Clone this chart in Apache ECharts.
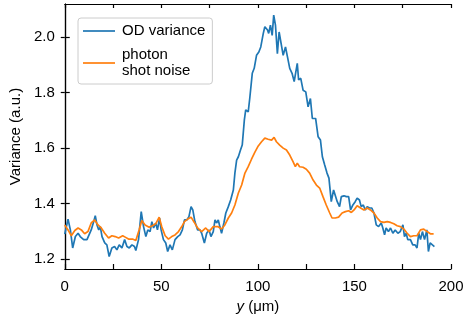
<!DOCTYPE html>
<html>
<head>
<meta charset="utf-8">
<script src="https://cdn.jsdelivr.net/npm/echarts@6/dist/echarts.min.js"></script>
<style>
  html, body { margin: 0; padding: 0; background: #fff; }
  #chart { width: 467px; height: 322px; }
</style>
</head>
<body>
<div id="chart"></div>
<script>
// OD variance (blue)
var odX = [0,1.7,2.9,4.1,5.5,6.9,8,9.8,11.5,12.4,13.7,15,15.8,16.7,17.6,18.4,19.3,20.7,21.8,23,
  24.4,25.8,27,28.2,29.6,31,32.2,33.4,34.8,36.1,36.8,38.2,39.6,40.8,42,43,44.2,45.1,46,47.1,
  48,49.1,49.9,51.1,52.3,53.3,54.5,55.7,57.1,58.5,59.7,60.9,62,63.2,64.3,65.4,66.3,67.4,68.8,70,
  70.9,72.3,73.5,74.7,75.7,76.9,77.8,78.6,79.5,80.3,81.2,82.4,83.4,84.7,85.9,87.3,88.1,89,89.9,91,
  91.9,93,93.7,95,95.8,97.1,98.1,99.3,100.5,101.5,102.8,103.6,105,105.6,106.5,107.4,108.2,109.1,110.1,111,
  112.2,113.1,114.3,115.3,116.5,117.7,118.8,119.4,120.4,121.1,122.2,123.4,124.8,126,127.2,128.2,129.9,131.2,132.4,133.4,
  134.6,135.8,136.8,138,139.2,140.1,141.1,142.3,143.2,144.6,145.8,147,148,149.2,150.4,151.4,152.6,153.5,154.6,155.6,
  156.6,157.8,159,160.1,161.3,162.5,163.9,164.7,165.6,166.4,167.6,168.7,169.9,171.1,172.5,173.7,175.1,175.9,176.8,177.6,
  179,180.2,181.4,182.4,183.3,184.2,185.2,186.3,187.5,188.3,189.2,190.2,191.4];
var odY = [1.29,1.344,1.305,1.24,1.281,1.293,1.281,1.27,1.27,1.263,1.305,1.335,1.356,1.323,1.305,1.317,1.281,1.258,1.251,1.209,
  1.24,1.245,1.233,1.251,1.24,1.27,1.245,1.24,1.251,1.245,1.231,1.27,1.371,1.317,1.281,1.305,1.299,1.335,1.312,1.33,
  1.305,1.348,1.305,1.27,1.258,1.227,1.251,1.233,1.27,1.281,1.287,1.305,1.341,1.341,1.353,1.389,1.377,1.335,1.305,1.305,
  1.293,1.258,1.293,1.305,1.281,1.299,1.341,1.33,1.341,1.317,1.293,1.33,1.366,1.389,1.413,1.449,1.51,1.557,1.569,1.593,
  1.611,1.702,1.738,1.731,1.78,1.87,1.888,1.935,1.947,1.965,2.014,2.038,2.026,2.014,2.044,2.007,2.08,2.044,1.941,2.019,
  1.971,1.935,1.965,1.93,1.888,1.87,1.84,1.834,1.906,1.846,1.852,1.809,1.803,1.749,1.779,1.707,1.707,1.641,1.629,1.569,
  1.539,1.51,1.492,1.407,1.449,1.449,1.407,1.389,1.425,1.428,1.425,1.425,1.377,1.395,1.407,1.42,1.413,1.389,1.395,1.377,
  1.389,1.384,1.384,1.366,1.323,1.317,1.33,1.312,1.287,1.312,1.299,1.312,1.293,1.305,1.293,1.299,1.323,1.281,1.293,1.27,
  1.27,1.251,1.251,1.24,1.293,1.27,1.299,1.27,1.305,1.227,1.258,1.263,1.245];

// photon shot noise (orange)
var snX = [0,1.7,3.4,5.2,6.9,8.6,10.3,12,13.7,15.5,17.2,18.9,20.7,22.7,24.4,26.1,27.9,30,31.3,33,
  35.1,36.8,38.5,39.9,41.6,43.7,45.4,47.1,48.9,50.2,52,53.7,55.4,57.1,58.9,60.6,62,63.7,65.4,67.1,
  68.8,70.9,73,74.7,76.9,79.2,81.2,82.9,84.7,86.4,88.1,89.9,91.6,93.3,95,96.7,98.4,100.2,101.9,103.6,
  105.3,107.1,108.4,109.6,111.3,113.1,114.8,116.5,118.2,119.4,120.4,121.6,123.4,125.1,126.8,128.6,130.3,132,133.7,135.4,
  137.2,138.4,140.1,141.8,143.6,145.3,147,148.4,149.8,151.4,153.2,154.9,156.6,158.3,160.1,161.8,163.5,165.3,167,168.7,
  170.4,172.1,173.8,175.6,177.3,179,180.7,182.4,184.2,185.9,187.6,189.3,191];
var snY = [1.323,1.305,1.284,1.303,1.312,1.305,1.291,1.299,1.33,1.341,1.323,1.312,1.293,1.276,1.284,1.281,1.276,1.284,1.279,1.272,
  1.272,1.267,1.305,1.339,1.323,1.315,1.32,1.327,1.351,1.317,1.284,1.272,1.281,1.287,1.299,1.317,1.335,1.344,1.351,1.332,
  1.312,1.299,1.312,1.299,1.317,1.317,1.308,1.323,1.348,1.366,1.395,1.438,1.467,1.51,1.533,1.56,1.585,1.608,1.623,1.636,
  1.632,1.629,1.639,1.623,1.611,1.6,1.593,1.575,1.551,1.533,1.546,1.533,1.531,1.524,1.51,1.485,1.467,1.456,1.425,1.395,
  1.366,1.348,1.348,1.351,1.366,1.371,1.374,1.368,1.377,1.392,1.384,1.377,1.384,1.377,1.366,1.348,1.335,1.332,1.335,1.332,
  1.327,1.32,1.317,1.308,1.293,1.281,1.284,1.284,1.305,1.308,1.299,1.291,1.291];

var yTicks = [1.2, 1.4, 1.6, 1.8, 2.0];
var seriesNames = ['OD variance', 'photon\nshot noise'];

var FONT = '"Liberation Sans", Arial, sans-serif';
var chart = echarts.init(document.getElementById('chart'), null, { renderer: 'canvas' });

function pairs(xs, ys) {
  return xs.map(function (x, i) { return [x, ys[i]]; });
}

var axisLine = { show: true, lineStyle: { color: '#000', width: 1.2 } };

chart.setOption({
  animation: false,
  backgroundColor: '#fff',
  textStyle: { fontFamily: FONT },
  grid: { left: 63, right: 16, top: 4, bottom: 53 },
  legend: {
    orient: 'vertical',
    left: 78, top: 18,
    padding: [5, 7, 5, 5],
    itemGap: 8,
    icon: 'rect',
    itemWidth: 32, itemHeight: 1.7,
    backgroundColor: '#fff',
    borderColor: '#cccccc', borderWidth: 1, borderRadius: 3,
    textStyle: { fontFamily: FONT, fontSize: 15, color: '#000', lineHeight: 16, padding: [0, 0, 0, 2] },
    data: seriesNames
  },
  xAxis: [{
    type: 'value', min: 0, max: 200, interval: 50,
    name: '{i|y} (μm)',
    nameLocation: 'middle', nameGap: 20,
    nameTextStyle: {
      fontFamily: FONT, fontSize: 15, color: '#000',
      rich: { i: { fontStyle: 'italic', fontFamily: FONT, fontSize: 15, color: '#000' } }
    },
    axisLine: axisLine,
    axisTick: { show: true, inside: true, length: 5, lineStyle: { color: '#000', width: 1.2 } },
    minorTick: { show: true, splitNumber: 2, length: 5, lineStyle: { color: '#000', width: 1.2 } },
    axisLabel: { fontFamily: FONT, fontSize: 15, color: '#000', margin: 10 },
    splitLine: { show: false }
  }, {
    type: 'value', min: 0, max: 200, interval: 25, position: 'top',
    axisLine: axisLine,
    axisTick: { show: true, inside: true, length: 4, lineStyle: { color: '#000', width: 1.2 } },
    axisLabel: { show: false },
    splitLine: { show: false }
  }],
  yAxis: [{
    type: 'value', min: 1.164, max: 2.12,
    name: 'Variance (a.u.)',
    nameLocation: 'middle', nameGap: 41,
    nameTextStyle: { fontFamily: FONT, fontSize: 15, color: '#000' },
    axisLine: axisLine,
    axisTick: { show: true, inside: true, length: 5, customValues: yTicks, lineStyle: { color: '#000', width: 1.2 } },
    axisLabel: {
      fontFamily: FONT, fontSize: 15, color: '#000', margin: 10,
      customValues: yTicks,
      formatter: function (v) { return v.toFixed(1); }
    },
    splitLine: { show: false }
  }, {
    type: 'value', min: 1.164, max: 2.12, position: 'right',
    axisLine: axisLine,
    axisTick: { show: true, inside: true, length: 4, customValues: yTicks, lineStyle: { color: '#000', width: 1.2 } },
    axisLabel: { show: false },
    splitLine: { show: false }
  }],
  series: [{
    name: seriesNames[0],
    type: 'line',
    data: pairs(odX, odY),
    symbol: 'none',
    lineStyle: { color: '#1f77b4', width: 1.7 },
    itemStyle: { color: '#1f77b4' }
  }, {
    name: seriesNames[1],
    type: 'line',
    data: pairs(snX, snY),
    symbol: 'none',
    lineStyle: { color: '#ff7f0e', width: 1.7 },
    itemStyle: { color: '#ff7f0e' }
  }]
});
</script>
</body>
</html>
